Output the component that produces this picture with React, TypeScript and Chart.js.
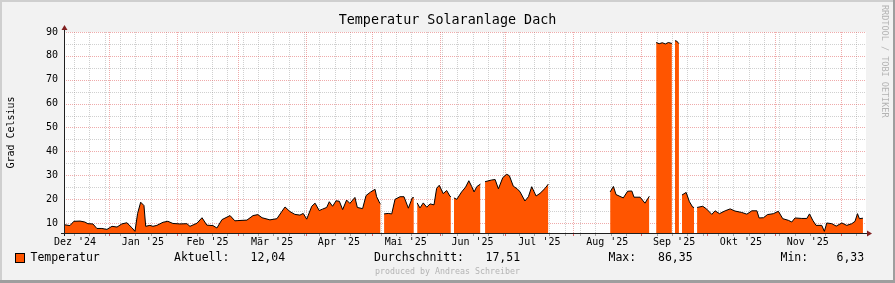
import React, { useEffect, useRef } from "react";
import { Chart, registerables } from "chart.js";

Chart.register(...registerables);

const CHART_TITLE = "Temperatur Solaranlage Dach";
const Y_TITLE = "Grad Celsius";
const SIDE_TEXT = "RRDTOOL / TOBI OETIKER";
const FOOTER = "produced by Andreas Schreiber";
const SERIES_NAME = "Temperatur";

// days relative to 2025-01-01 (null = no data)
const dayOffsets = [
  -20.5, -17.8, -16.0, -13.2, -11.0, -9.6, -7.3, -5.5, -3.2, -0.9,
  1.4, 3.7, 5.9, 8.2, 10.5, 11.9, 13.1, 14.5, 16.0, 16.8,
  18.7, 20.1, 21.9, 24.7, 26.9, 29.2, 32.4, 35.6, 37.0, 40.2,
  42.5, 44.7, 47.5, 49.3, 51.6, 55.3, 57.5, 58.9, 63.0, 65.8,
  68.0, 69.9, 73.5, 76.7, 79.0, 80.4, 82.6, 84.9, 87.2, 88.7,
  90.3, 92.6, 94.1, 96.0, 97.5, 99.4, 100.6, 102.1, 103.7, 105.2,
  106.7, 108.5, 110.0, 112.3, 113.4, 115.8, 117.4, 119.5, 121.5, 122.2,
  123.7, 124.0, 124.8,
  125.6, 127.5, 129.1, 130.6, 132.9, 134.7, 136.7, 138.5, 139.2, 140.0,
  140.7, 142.0, 143.5, 145.1, 146.6, 148.4, 149.6, 150.8, 152.6, 154.2, 155.7, 156.1, 156.8,
  157.5, 158.8, 161.0, 162.8, 164.3, 165.6, 166.7, 167.9, 169.6, 170.8,
  171.7, 174.7, 176.3, 177.8, 179.8, 181.6, 182.8, 184.6, 186.4, 187.7,
  189.9, 191.5, 193.0, 195.0, 196.8, 199.1, 200.6, 214.0,
  228.8, 230.3, 231.5, 234.8, 236.8, 238.7, 239.7, 242.5, 244.7, 246.7, 248.3,
  249.8, 251.2, 252.6, 254.0, 255.4, 257.0, 257.7,
  258.4, 259.2, 260.2, 260.9,
  261.6, 263.5, 265.0, 266.5, 267.1, 267.8,
  268.5, 271.1, 272.9, 275.2, 276.7, 278.7, 281.3, 283.6, 285.8, 288.9,
  291.2, 293.5, 295.8, 296.8, 298.8, 300.6, 303.3, 305.6, 307.6, 310.2,
  311.7, 313.2, 316.3, 318.6, 319.8, 321.3, 322.8, 325.4, 326.6, 327.7,
  330.0, 332.0, 334.6, 336.8, 339.1, 340.6, 341.7, 342.6, 344.2,
];

const temperatures: (number | null)[] = [
  9.3, 8.9, 10.7, 10.8, 10.4, 9.7, 9.6, 7.7, 7.7, 7.3,
  8.6, 8.3, 9.6, 10.1, 8.0, 6.5, 14.0, 18.7, 17.3, 8.6,
  9.0, 8.6, 9.0, 10.3, 10.7, 9.8, 9.6, 9.7, 8.6, 9.9,
  12.2, 9.1, 8.9, 7.9, 11.4, 13.1, 10.9, 11.0, 11.2, 13.1,
  13.5, 12.2, 11.3, 11.8, 14.9, 16.7, 14.8, 13.6, 13.3, 14.0,
  11.6, 17.0, 18.3, 15.2, 15.8, 16.5, 18.9, 17.0, 19.3, 19.1,
  15.6, 19.6, 18.2, 20.7, 16.5, 16.0, 21.5, 23.0, 24.1, 21.0,
  18.2, 18.0, null,
  13.8, 14.0, 13.8, 19.9, 21.0, 21.0, 16.2, 20.6, 20.6, null,
  18.4, 16.3, 18.4, 16.6, 18.0, 17.6, 24.5, 25.8, 22.3, 23.6, 21.2, 21.0, null,
  20.5, 19.9, 23.0, 25.0, 27.7, 25.3, 23.0, 25.2, 26.3, null,
  27.3, 28.0, 28.2, 24.3, 29.0, 30.4, 29.8, 25.4, 24.3, 23.0,
  19.2, 21.0, 25.2, 21.3, 22.4, 24.5, 26.3, null,
  23.0, 25.3, 21.9, 20.5, 23.3, 23.4, 20.8, 20.8, 18.3, 21.2, null,
  85.6, 85.1, 85.5, 85.0, 85.6, 85.2, null,
  86.35, 86.2, 85.1, null,
  21.7, 22.8, 18.9, 16.6, 16.5, null,
  16.5, 17.0, 15.8, 13.6, 15.1, 13.9, 15.1, 15.9, 15.0, 14.4,
  13.7, 15.1, 15.1, 12.1, 12.2, 13.5, 13.9, 14.9, 11.8, 11.1,
  10.4, 12.1, 11.9, 11.9, 13.8, 11.1, 9.0, 9.0, 6.5, 10.0,
  9.7, 8.7, 10.0, 9.0, 9.7, 10.7, 13.9, 11.8, 12.0,
];

const monthStartDays = [-31, 0, 31, 59, 90, 120, 151, 181, 212, 243, 273, 304, 334];
const monthLabels = [
  "Dez '24", "Jan '25", "Feb '25", "Mär '25", "Apr '25", "Mai '25",
  "Jun '25", "Jul '25", "Aug '25", "Sep '25", "Okt '25", "Nov '25",
];
const firstMondayDay = -16;

const X_MIN = -20.5;
const X_MAX = 345.6;
const Y_MIN = 5.8;
const Y_MAX = 90;
const yMajorTicks = [10, 20, 30, 40, 50, 60, 70, 80, 90];
const yMinorTicks = [15, 25, 35, 45, 55, 65, 75, 85];

const statLabels = ["Aktuell:", "Durchschnitt:", "Max:", "Min:"];
const statValues = ["12,04", "17,51", "86,35", "6,33"];

const W = 895;
const H = 283;
const AREA = { left: 64, right: 866, top: 32, bottom: 233 };
const MONO = "'DejaVu Sans Mono', monospace";
const FILL = "#FF5500";
const MINOR = "rgba(143,143,143,0.42)";
const MAJOR = "rgba(222,79,79,0.48)";

const monthMids = monthLabels.map((_, i) => (monthStartDays[i] + monthStartDays[i + 1]) / 2);

const rrdPlugin = {
  id: "rrdLook",
  beforeDraw(chart: any) {
    const ctx = chart.ctx;
    const { left, right, top, bottom } = chart.chartArea;
    const xs = chart.scales.x;
    const ys = chart.scales.y;
    ctx.save();
    ctx.fillStyle = "#F2F2F2";
    ctx.fillRect(0, 0, W, H);
    ctx.fillStyle = "#CFCFCF";
    ctx.fillRect(0, 0, W, 2);
    ctx.fillRect(0, 0, 2, H);
    ctx.fillStyle = "#9E9E9E";
    ctx.fillRect(0, H - 3, W, 3);
    ctx.fillRect(W - 2, 0, 2, H);
    ctx.fillStyle = "#FFFFFF";
    ctx.fillRect(left, top, right - left, bottom - top);

    ctx.lineWidth = 1;
    ctx.setLineDash([1, 1]);
    const hline = (v: number, color: string) => {
      const py = Math.round(ys.getPixelForValue(v)) + 0.5;
      ctx.strokeStyle = color;
      ctx.beginPath();
      ctx.moveTo(left, py);
      ctx.lineTo(right, py);
      ctx.stroke();
    };
    const vline = (d: number, color: string) => {
      const px = Math.round(xs.getPixelForValue(d)) + 0.5;
      ctx.strokeStyle = color;
      ctx.beginPath();
      ctx.moveTo(px, top);
      ctx.lineTo(px, bottom);
      ctx.stroke();
    };
    yMinorTicks.forEach((v) => hline(v, MINOR));
    for (let d = firstMondayDay; d <= X_MAX; d += 7) {
      if (monthStartDays.includes(d)) continue;
      vline(d, MINOR);
    }
    yMajorTicks.forEach((v) => hline(v, MAJOR));
    monthStartDays.forEach((d) => {
      if (d > X_MIN && d < X_MAX) vline(d, MAJOR);
    });
    ctx.restore();
  },
  afterDatasetsDraw(chart: any) {
    const ctx = chart.ctx;
    const { left, right, top, bottom } = chart.chartArea;
    const xs = chart.scales.x;
    ctx.save();
    // tick marks
    ctx.lineWidth = 1;
    for (let d = firstMondayDay; d <= X_MAX; d += 7) {
      const px = Math.round(xs.getPixelForValue(d)) + 0.5;
      ctx.strokeStyle = "rgba(143,143,143,0.8)";
      ctx.beginPath();
      ctx.moveTo(px, bottom + 1);
      ctx.lineTo(px, bottom + 3);
      ctx.stroke();
    }
    monthStartDays.forEach((d) => {
      if (d <= X_MIN || d >= X_MAX) return;
      const px = Math.round(xs.getPixelForValue(d)) + 0.5;
      ctx.strokeStyle = "rgba(222,79,79,0.9)";
      ctx.beginPath();
      ctx.moveTo(px, bottom + 1);
      ctx.lineTo(px, bottom + 3);
      ctx.stroke();
    });
    // axes
    ctx.strokeStyle = "#1F1F1F";
    ctx.beginPath();
    ctx.moveTo(left + 0.5, bottom + 3);
    ctx.lineTo(left + 0.5, top - 3);
    ctx.moveTo(left - 3, bottom + 0.5);
    ctx.lineTo(right + 3, bottom + 0.5);
    ctx.stroke();
    ctx.fillStyle = "#801F1F";
    ctx.beginPath();
    ctx.moveTo(left - 2.5, top - 2);
    ctx.lineTo(left + 3.5, top - 2);
    ctx.lineTo(left + 0.5, top - 7);
    ctx.closePath();
    ctx.fill();
    ctx.beginPath();
    ctx.moveTo(right + 1, bottom - 2.5);
    ctx.lineTo(right + 1, bottom + 3.5);
    ctx.lineTo(right + 6, bottom + 0.5);
    ctx.closePath();
    ctx.fill();

    // title
    ctx.fillStyle = "#000";
    ctx.textAlign = "center";
    ctx.textBaseline = "middle";
    ctx.font = `13.4px ${MONO}`;
    ctx.fillText(CHART_TITLE, 447.5, 21);

    // y title
    ctx.save();
    ctx.translate(11, 132.5);
    ctx.rotate(-Math.PI / 2);
    ctx.font = `10px ${MONO}`;
    ctx.fillText(Y_TITLE, 0, 0);
    ctx.restore();

    // side text
    ctx.save();
    ctx.translate(884, 5);
    ctx.rotate(Math.PI / 2);
    ctx.textAlign = "left";
    ctx.font = `8.5px ${MONO}`;
    ctx.fillStyle = "#B4B4B4";
    ctx.fillText(SIDE_TEXT, 0, 0);
    ctx.restore();

    // legend
    ctx.fillStyle = FILL;
    ctx.fillRect(15, 253, 9, 9);
    ctx.strokeStyle = "#000";
    ctx.strokeRect(15.5, 253.5, 9, 9);
    ctx.fillStyle = "#000";
    ctx.textAlign = "left";
    ctx.font = `11.5px ${MONO}`;
    ctx.fillText(SERIES_NAME, 30.5, 258);
    const labelX = [174, 374, 608.5, 780.5];
    const valueX = [250.5, 485.5, 658, 836.5];
    statLabels.forEach((l, i) => {
      ctx.fillText(l, labelX[i], 258);
      ctx.fillText(statValues[i], valueX[i], 258);
    });

    ctx.font = `8.3px ${MONO}`;
    ctx.fillStyle = "#B4B4B4";
    ctx.textAlign = "center";
    ctx.fillText(FOOTER, 447.5, 272);
    ctx.restore();
  },
};

export default function App() {
  const ref = useRef<HTMLCanvasElement>(null);
  useEffect(() => {
    if (!ref.current) return;
    const data = dayOffsets.map((d, i) => ({ x: d, y: temperatures[i] }));
    const chart = new Chart(ref.current, {
      type: "line",
      data: {
        datasets: [
          {
            label: SERIES_NAME,
            data,
            borderColor: "#000",
            borderWidth: 1,
            backgroundColor: FILL,
            fill: "start",
            spanGaps: false,
            pointRadius: 0,
            tension: 0,
          },
        ],
      },
      options: {
        responsive: false,
        animation: false,
        devicePixelRatio: 1,
        layout: { padding: { left: 0, right: W - AREA.right, top: AREA.top, bottom: 0 } },
        plugins: { legend: { display: false }, tooltip: { enabled: false }, title: { display: false } },
        scales: {
          x: {
            type: "linear",
            min: X_MIN,
            max: X_MAX,
            grid: { display: false, drawTicks: false },
            border: { display: false },
            afterBuildTicks: (s: any) => {
              s.ticks = monthMids.filter((m) => m > X_MIN && m < X_MAX).map((m) => ({ value: m }));
            },
            afterFit: (s: any) => {
              s.height = H - AREA.bottom;
            },
            ticks: {
              autoSkip: false,
              maxRotation: 0,
              minRotation: 0,
              padding: 3,
              color: "#000",
              font: { family: MONO, size: 10 },
              callback: (v: any) => {
                const i = monthMids.indexOf(Number(v));
                return i >= 0 ? monthLabels[i] : "";
              },
            },
          },
          y: {
            type: "linear",
            min: Y_MIN,
            max: Y_MAX,
            grid: { display: false, drawTicks: false },
            border: { display: false },
            afterBuildTicks: (s: any) => {
              s.ticks = yMajorTicks.map((v) => ({ value: v }));
            },
            afterFit: (s: any) => {
              s.width = AREA.left;
            },
            ticks: {
              padding: 6,
              color: "#000",
              font: { family: MONO, size: 10 },
              callback: (v: any) => String(v),
            },
          },
        },
      },
      plugins: [rrdPlugin],
    });
    return () => chart.destroy();
  }, []);
  return (
    <div style={{ position: "fixed", left: 0, top: 0, width: W, height: H }}>
      <canvas ref={ref} width={W} height={H} style={{ display: "block" }} />
    </div>
  );
}
